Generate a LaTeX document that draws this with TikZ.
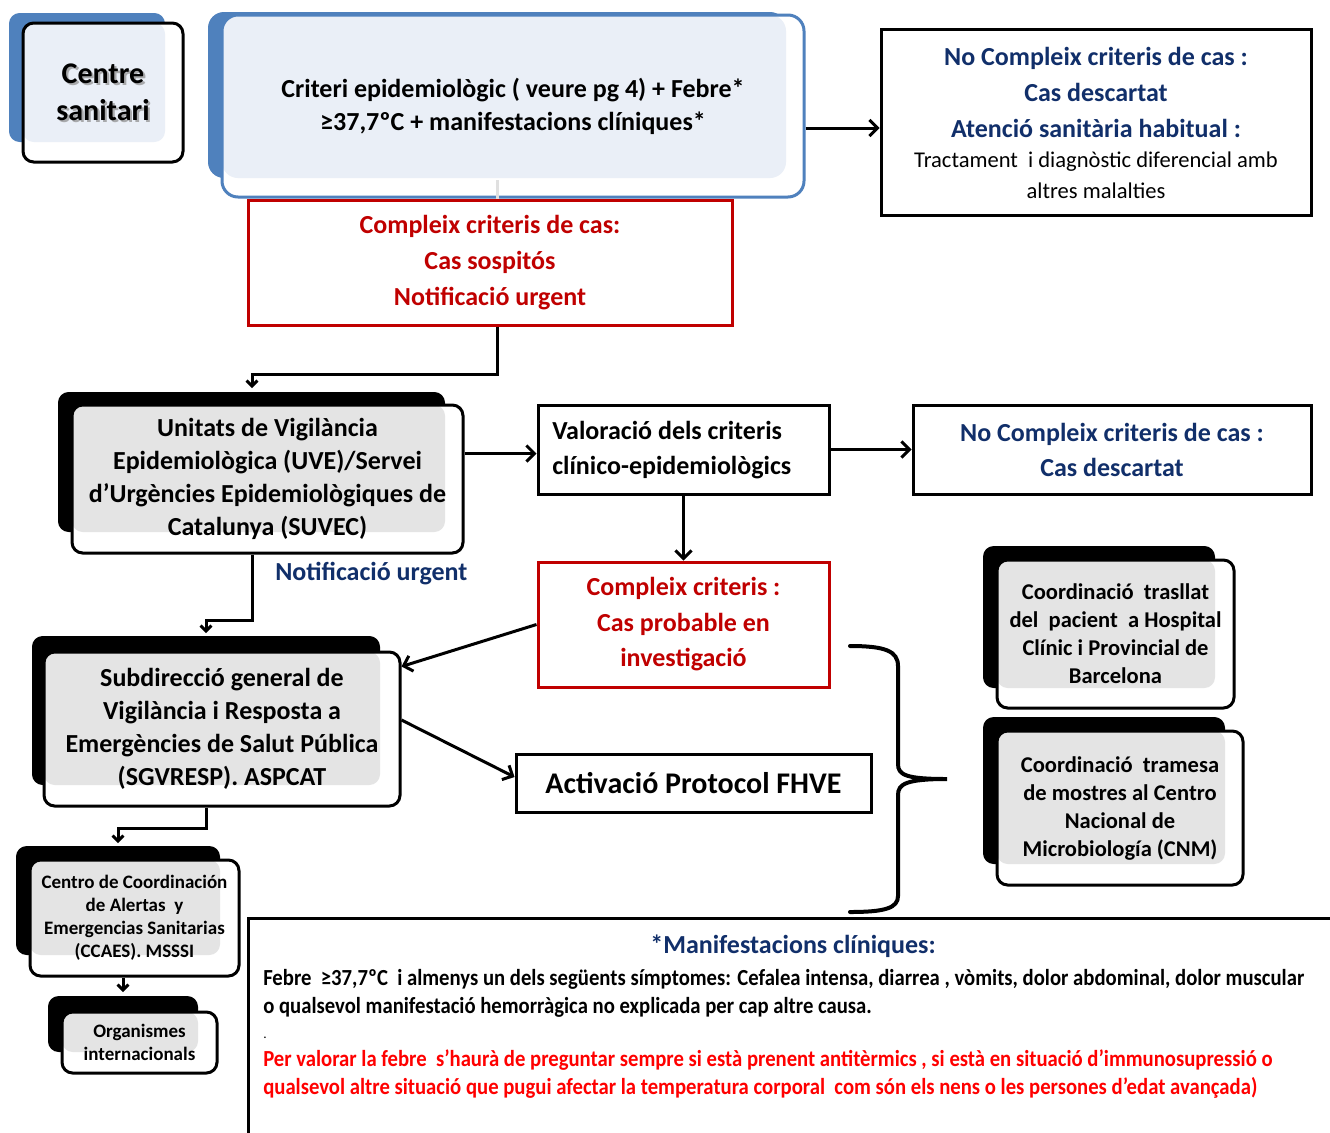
\documentclass[tikz,border=0pt]{standalone}
\usepackage{fontspec}
\setmainfont{Carlito}
\newfontfamily\condfont[FakeStretch=0.9]{Carlito}
\usetikzlibrary{arrows.meta,calc}
\definecolor{navy}{HTML}{112F6A}
\definecolor{dred}{HTML}{C00000}
\definecolor{bred}{HTML}{FF0000}
\definecolor{sblue}{HTML}{4F81BD}
\definecolor{lblue}{HTML}{EAEFF7}
\definecolor{lgray}{HTML}{E4E4E4}
\tikzset{
  fnt/.style 2 args={font=\bfseries\fontsize{#1}{#2}\selectfont},
  pos/.style n args={4}{at={({(#1+#3)/2},{(#2+#4)/2})},
     minimum width={(#3-#1)*0.75pt}, minimum height={(#4-#2)*0.75pt}},
  box/.style={draw, line width=2.25pt, inner sep=0pt, align=center},
  rbox/.style={box, rounded corners=8pt},
  rc/.style={rounded corners=8pt},
  arr/.style={line width=2.25pt, -{Straight Barb[length=6pt,width=12pt]}},
  elb/.style={line width=2.25pt, -{Straight Barb[length=4pt,width=8pt]}},
  stub/.style={line width=2.25pt, black!12},
}
\begin{document}
\begin{tikzpicture}[x=0.75pt,y=-0.75pt]
\clip (0,0) rectangle (1330,1132);
\fill[white] (0,0) rectangle (1330,1132);

% ---------- Centre sanitari
\fill[sblue, rc] (9,13) rectangle (165,142);
\fill[white, rc] (23,23) rectangle (183,162);
\fill[lblue, rc] (23,23) rectangle (165,142);
\node[rbox, pos={23}{23}{183}{162}] (cs) {};
\node[fnt={22.5pt}{27.75pt}, align=center, text=black!45, opacity=.7] (csh) at ([xshift=1.6pt,yshift=-1.6pt]cs.center) {Centre\\sanitari};
\node[fnt={22.5pt}{27.75pt}, align=center] (cst) at (cs.center) {Centre\\sanitari};

% ---------- Criteria
\fill[sblue, rounded corners=12pt] (208,12) rectangle (786,178);
\fill[white, rounded corners=12pt] (222,15) rectangle (804,197);
\fill[lblue, rounded corners=12pt] (222,15) rectangle (786,178);
\node[box, draw=sblue, rounded corners=12pt, pos={222}{15}{804}{197}, fnt={19.5pt}{24.75pt}] (crit)
  {Criteri epidemiològic ( veure pg 4) + Febre*\\≥37,7ºC + manifestacions clíniques*};

% ---------- No compleix (top)
\node[box, pos={881}{29}{1311}{215}] (nc1) {};
\node[fnt={19.5pt}{27pt}, align=center, text=navy] (nc1a) at (1096,92) {No Compleix criteris de cas :\\Cas descartat\\Atenció sanitària habitual :};
\node[font=\mdseries\fontsize{16.9pt}{23.25pt}\selectfont, align=center] (nc1b) at (1096,175.5) {Tractament~ i diagnòstic diferencial amb\\altres malalties};

% ---------- Red box (cas sospitos)
\node[box, draw=dred, text=dred, pos={248}{200}{732}{325}, fnt={19.5pt}{27pt}] (red)
  {Compleix criteris de cas:\\Cas sospitós\\Notificació urgent};

% ---------- UVE
\fill[black, rc] (58,392) rectangle (445,532);
\fill[white, rc] (72,405) rectangle (463,553);
\fill[lgray, rc] (72,405) rectangle (445,532);
\node[rbox, pos={72}{405}{463}{553}, fnt={19.5pt}{24.75pt}] (uve)
  {Unitats de Vigilància\\Epidemiològica (UVE)/Servei\\d’Urgències Epidemiològiques de\\Catalunya (SUVEC)};

% ---------- Valoracio
\node[box, pos={538}{405}{829}{494}] (val) {};
\node[fnt={19.5pt}{26.25pt}, align=left, anchor=west, inner sep=0pt] (valt) at (552,450.5) {Valoració dels criteris\\clínico-epidemiològics};

% ---------- No compleix 2
\node[box, pos={913}{405}{1311}{494}, text=navy, fnt={19.5pt}{26.25pt}] (nc2)
  {No Compleix criteris de cas :\\Cas descartat};

% ---------- Cas probable
\node[box, draw=dred, text=dred, pos={538}{562}{829}{687}, fnt={19.5pt}{26.6pt}] (cp)
  {Compleix criteris :\\Cas probable en\\investigació};

% ---------- Notificacio urgent label
\node[fnt={19.5pt}{24pt}, text=navy, anchor=west, inner sep=0pt] (notif) at (275,574) {Notificació urgent};

% ---------- SGVRESP
\fill[black, rc] (32,636) rectangle (380,785);
\fill[white, rc] (44,652) rectangle (400,806);
\fill[lgray, rc] (44,652) rectangle (380,785);
\node[rbox, pos={44}{652}{400}{806}, fnt={19.5pt}{24.75pt}] (sg)
  {Subdirecció general de\\Vigilància i Resposta a\\Emergències de Salut Pública\\(SGVRESP). ASPCAT};

% ---------- Activacio
\node[box, pos={516}{754}{871}{812}, fnt={22.5pt}{27pt}] (act) {Activació Protocol FHVE};

% ---------- Coordinacio trasllat
\fill[black, rc] (983,546) rectangle (1215,688);
\fill[white, rc] (997,560) rectangle (1234,708);
\fill[lgray, rc] (997,560) rectangle (1215,688);
\node[rbox, pos={997}{560}{1234}{708}, fnt={16.9pt}{21pt}] (ct)
  {Coordinació~ trasllat\\del~ pacient~ a Hospital\\Clínic i Provincial de\\Barcelona};

% ---------- Coordinacio tramesa
\fill[black, rc] (983,717) rectangle (1225,864);
\fill[white, rc] (997,731) rectangle (1243,885);
\fill[lgray, rc] (997,731) rectangle (1225,864);
\node[rbox, pos={997}{731}{1243}{885}, fnt={16.9pt}{21pt}] (cm)
  {Coordinació~ tramesa\\de mostres al Centro\\Nacional de\\Microbiología (CNM)};

% ---------- CCAES
\fill[black, rc] (16,846) rectangle (220,955);
\fill[white, rc] (30,860) rectangle (239,976);
\fill[lgray, rc] (30,860) rectangle (220,955);
\node[rbox, pos={30}{860}{239}{976}, fnt={14.25pt}{17.25pt}] (cc)
  {Centro de Coordinación\\de Alertas~ y\\Emergencias Sanitarias\\(CCAES). MSSSI};

% ---------- Organismes
\fill[black, rc] (48,996) rectangle (198,1052);
\fill[white, rc] (62,1012) rectangle (217,1073);
\fill[lgray, rc] (62,1012) rectangle (198,1052);
\node[rbox, pos={62}{1012}{217}{1073}, fnt={14.25pt}{17.25pt}] (org)
  {Organismes\\internacionals};

% ---------- Notes box
\node[box, pos={248}{918}{1345}{1150}] (notes) {};
\node[fnt={19.5pt}{24pt}, text=navy] (ttl) at (793,946) {*Manifestacions clíniques:};
\tikzset{body/.style={font=\condfont\bfseries\fontsize{17.25pt}{21pt}\selectfont, anchor=base west, inner sep=0pt}}
\node[body] (b1) at (263,985) {Febre~ ≥37,7ºC~ i almenys un dels següents símptomes: Cefalea intensa, diarrea , vòmits, dolor abdominal, dolor muscular};
\node[body] (b2) at (263,1013) {o qualsevol manifestació hemorràgica no explicada per cap altre causa.};
\node[font=\fontsize{10pt}{12pt}\selectfont, anchor=base west, inner sep=0pt] (b3) at (263,1038) {.};
\node[body, text=bred] (b4) at (263,1066) {Per valorar la febre~ s’haurà de preguntar sempre si està prenent antitèrmics , si està en situació d’immunosupressió o};
\node[body, text=bred] (b5) at (263,1094) {qualsevol altre situació que pugui afectar la temperatura corporal~ com són els nens o les persones d’edat avançada)};

% ---------- Connectors
\coordinate (s1) at (497,180);
\draw[stub] (s1) -- (crit.south -| s1);
\draw[arr] ([yshift=-4.5pt]nc1.west -| crit.east) -- ([yshift=-4.5pt]nc1.west);
\coordinate (r1) at (497,374);
\coordinate (r2) at (252,374);
\coordinate (r3) at (252,388);
\draw[elb] (red.south -| r1) -- (r1) -- (r2) -- (r3);
\draw[arr] ([yshift=-3pt]uve.east |- val.west) -- ([yshift=-3pt]val.west);
\draw[arr] (val.east) -- (nc2.west);
\draw[arr] (val.south) -- (cp.north);
\draw[arr] (cp.west) -- ([yshift=-12pt]sg.north east);
\draw[arr] ([yshift=6.75pt]sg.east) -- ([yshift=4.5pt]act.west);
\coordinate (u1) at (252,620);
\coordinate (u2) at (206,620);
\coordinate (u3) at (206,633);
\draw[elb] (uve.south -| u1) -- (u1) -- (u2) -- (u3);
\coordinate (g1) at (206,828);
\coordinate (g2) at (118,828);
\coordinate (g3) at (118,843);
\draw[elb] (sg.south -| g1) -- (g1) -- (g2) -- (g3);
\coordinate (c1) at (123,992);
\draw[elb] (cc.south -| c1) -- (c1);

% ---------- Brace
\draw[line width=3pt, line cap=round]
  (850,646) .. controls (885,646) and (898,651) .. (898,666) -- (898,764)
  .. controls (898,775) and (906,779) .. (947,779)
  .. controls (906,779) and (898,784) .. (898,795) -- (898,896)
  .. controls (898,908) and (885,912) .. (850,912);
\end{tikzpicture}
\end{document}
